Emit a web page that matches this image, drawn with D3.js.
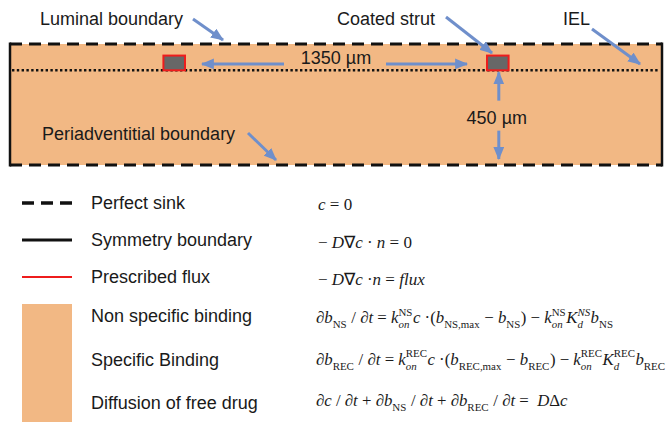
<!DOCTYPE html>
<html>
<head>
<meta charset="utf-8">
<script src="https://cdn.jsdelivr.net/npm/d3@7"></script>
<style>
  body { margin: 0; background: #fff; }
  svg { display: block; }
  .lab { font-family: "Liberation Sans", Arial, sans-serif; font-size: 18px; fill: #1a1a1a; }
  .eq { font-family: "Liberation Serif", "Times New Roman", serif; fill: #1a1a1a; }
</style>
</head>
<body>
<div id="chart"></div>
<script>
// Geometry of the model (µm)
const vesselLength = 2720;
const strutStarts = [640, 1990];
const strutWidth = 90;
const strutThickness = 70;
const lumenDepth = 125;
const wallDepth = 450;
const strutSpacing = 1350;

// Annotation labels on the diagram
const annotationLabels = ['Luminal boundary', 'Coated strut', 'IEL', 'Periadventitial boundary'];
const dimensionLabels = ['1350 µm', '450 µm'];

// Legend rows
const boundaryLabels = ['Perfect sink', 'Symmetry boundary', 'Prescribed flux'];
const boundaryStyles = ['dash', 'solid', 'red'];
const regionLabels = ['Non specific binding', 'Specific Binding', 'Diffusion of free drug'];

// Equations: _{..} sub upright, _[..] sub italic, ^{..} sup upright, ^[..] sup italic
const boundaryEquations = [
  'c = 0',
  '− D∇c · n = 0',
  '− D∇c ·n = flux'
];
const regionEquations = [
  '∂b_{NS} / ∂t = k_[on]^{NS}c ·(b_{NS,max} − b_{NS}) − k_[on]^{NS}K_[d]^[NS]b_{NS}',
  '∂b_{REC} / ∂t = k_[on]^{REC}c ·(b_{REC,max} − b_{REC}) − k_[on]^{REC}K_[d]^{REC}b_{REC}',
  '∂c / ∂t + ∂b_{NS} / ∂t + ∂b_{REC} / ∂t =  DΔc'
];

const W = 669, H = 422;
const tissue = '#f2b884';
const arrowBlue = '#6f8fcb';

const svg = d3.select('#chart').append('svg').attr('width', W).attr('height', H);

svg.append('defs').append('marker')
  .attr('id', 'head')
  .attr('markerUnits', 'userSpaceOnUse')
  .attr('viewBox', '0 0 12 10')
  .attr('refX', 11).attr('refY', 5)
  .attr('markerWidth', 13).attr('markerHeight', 11)
  .attr('orient', 'auto')
  .append('path').attr('d', 'M0,0 L12,5 L0,10 Z').attr('fill', arrowBlue);

const x = d3.scaleLinear().domain([0, vesselLength]).range([10, 662]);
const y = d3.scaleLinear().domain([-lumenDepth, wallDepth]).range([44, 165]);

// Tissue
svg.append('rect')
  .attr('x', x(0)).attr('y', y(-lumenDepth))
  .attr('width', x(vesselLength) - x(0)).attr('height', y(wallDepth) - y(-lumenDepth))
  .attr('fill', tissue);

// IEL dotted line
svg.append('line')
  .attr('x1', x(0) + 2).attr('x2', x(vesselLength) - 2)
  .attr('y1', y(0)).attr('y2', y(0))
  .attr('stroke', '#111').attr('stroke-width', 2.6).attr('stroke-dasharray', '2.4,2.4');

// Perfect sink boundaries (dashed)
[-lumenDepth, wallDepth].forEach(d => {
  svg.append('line')
    .attr('x1', x(0)).attr('x2', x(vesselLength))
    .attr('y1', y(d)).attr('y2', y(d))
    .attr('stroke', '#111').attr('stroke-width', 3).attr('stroke-dasharray', '12,7');
});

// Symmetry boundaries
[0, vesselLength].forEach(p => {
  svg.append('line')
    .attr('x1', x(p)).attr('x2', x(p))
    .attr('y1', y(-lumenDepth) - 1.5).attr('y2', y(wallDepth) + 1.5)
    .attr('stroke', '#111').attr('stroke-width', 2.5);
});

// Struts
svg.selectAll('rect.strut').data(strutStarts).enter().append('rect')
  .attr('class', 'strut')
  .attr('x', d => x(d)).attr('y', y(-strutThickness))
  .attr('width', x(strutWidth) - x(0)).attr('height', y(0) - y(-strutThickness))
  .attr('fill', '#676767').attr('stroke', '#ee1c1c').attr('stroke-width', 2);

const arrow = (x1, y1, x2, y2) => svg.append('line')
  .attr('x1', x1).attr('y1', y1).attr('x2', x2).attr('y2', y2)
  .attr('stroke', arrowBlue).attr('stroke-width', 3).attr('marker-end', 'url(#head)');

// 1350 µm spacing
const leftEnd = x(strutStarts[0] + strutWidth);
const rightStart = x(strutStarts[0] + strutSpacing);
const mid = (leftEnd + rightStart) / 2;
const yDim = y(-strutThickness / 2) + 1;
arrow(mid - 52, yDim, leftEnd + 17, yDim);
arrow(mid + 50, yDim, rightStart - 20, yDim);
svg.append('text').attr('class', 'lab').attr('x', mid).attr('y', 64)
  .attr('text-anchor', 'middle').text(dimensionLabels[0]);

// 450 µm depth
const xs = x(strutStarts[1] + strutWidth / 2) + 1;
const yMid = (y(0) + y(wallDepth)) / 2;
arrow(xs, yMid - 17, xs, y(0) + 2);
arrow(xs, yMid + 13, xs, y(wallDepth) - 6);
svg.append('text').attr('class', 'lab').attr('x', xs - 2).attr('y', yMid + 6)
  .attr('text-anchor', 'middle').text(dimensionLabels[1]);

// Annotation labels with arrows
const annot = [
  { tx: 40, ty: 25, a: [193, 19, 223, 40] },
  { tx: 337, ty: 25, a: [446, 17, 492, 53] },
  { tx: 563, ty: 25, a: [592, 29, 640, 64] },
  { tx: 42, ty: 140, a: [248, 133, 276, 160] }
];
annotationLabels.forEach((t, i) => {
  const o = annot[i];
  svg.append('text').attr('class', 'lab').attr('x', o.tx).attr('y', o.ty).text(t);
  arrow(...o.a);
});

// Legend
const rowB = d3.scalePoint().domain(boundaryLabels).range([203, 277]);
const rowR = d3.scalePoint().domain(regionLabels).range([316, 403]);
const eqB = d3.scalePoint().domain(boundaryEquations).range([205, 280]);
const eqR = d3.scalePoint().domain(regionEquations).range([318, 401]);

boundaryLabels.forEach((t, i) => {
  const yy = rowB(t);
  const st = boundaryStyles[i];
  svg.append('line').attr('x1', 22).attr('x2', 72).attr('y1', yy).attr('y2', yy)
    .attr('stroke', st === 'red' ? '#ee1c1c' : '#111')
    .attr('stroke-width', st === 'dash' ? 3.5 : (st === 'solid' ? 2.8 : 2.2))
    .attr('stroke-dasharray', st === 'dash' ? '12,7' : null);
  svg.append('text').attr('class', 'lab').attr('x', 91).attr('y', yy).attr('dy', '0.35em').text(t);
});

svg.append('rect').attr('x', 22).attr('y', 304).attr('width', 50).attr('height', H - 304)
  .attr('fill', tissue);
regionLabels.forEach(t => {
  svg.append('text').attr('class', 'lab').attr('x', 91).attr('y', rowR(t)).attr('dy', '0.35em').text(t);
});

// Equation parsing/rendering
const parse = (s) => {
  const out = [];
  let i = 0;
  const isScript = j => (s[j] === '_' || s[j] === '^') && (s[j + 1] === '{' || s[j + 1] === '[');
  while (i < s.length) {
    if (isScript(i)) {
      const close = s[i + 1] === '{' ? '}' : ']';
      const j = s.indexOf(close, i + 2);
      out.push({ kind: s[i] === '_' ? 'sub' : 'sup', t: s.slice(i + 2, j), it: s[i + 1] === '[' });
      i = j + 1;
    } else {
      let j = i;
      while (j < s.length && !isScript(j)) j += 1;
      s.slice(i, j).match(/[A-Za-z]+|[^A-Za-z]+/g)
        .forEach(r => out.push({ kind: 'base', t: r, it: /[A-Za-z]/.test(r) }));
      i = j;
    }
  }
  return out;
};

const drawEq = (s, x0, y0, size) => {
  const g = svg.append('g').attr('class', 'eq').attr('transform', `translate(${x0},${y0})`);
  const toks = parse(s);
  let cx = 0;
  const put = (tok, dy, fs) => {
    const el = g.append('text').attr('x', cx).attr('y', dy)
      .attr('font-size', fs).attr('font-style', tok.it ? 'italic' : 'normal')
      .attr('xml:space', 'preserve').text(tok.t);
    return el.node().getComputedTextLength();
  };
  for (let k = 0; k < toks.length; k += 1) {
    const tok = toks[k];
    if (tok.kind === 'base') {
      cx += put(tok, 0, size);
    } else {
      const dy = tok.kind === 'sub' ? size * 0.3 : -size * 0.42;
      let w = put(tok, dy, size * 0.65);
      const nx = toks[k + 1];
      if (nx && nx.kind !== 'base' && nx.kind !== tok.kind) {
        const dy2 = nx.kind === 'sub' ? size * 0.3 : -size * 0.42;
        w = Math.max(w, put(nx, dy2, size * 0.65));
        k += 1;
      }
      cx += w + 0.5;
    }
  }
};

boundaryEquations.forEach(e => drawEq(e, 318, eqB(e) + 5, 17));
regionEquations.forEach(e => drawEq(e, 316, eqR(e) + 5, 16.8));
</script>
</body>
</html>
